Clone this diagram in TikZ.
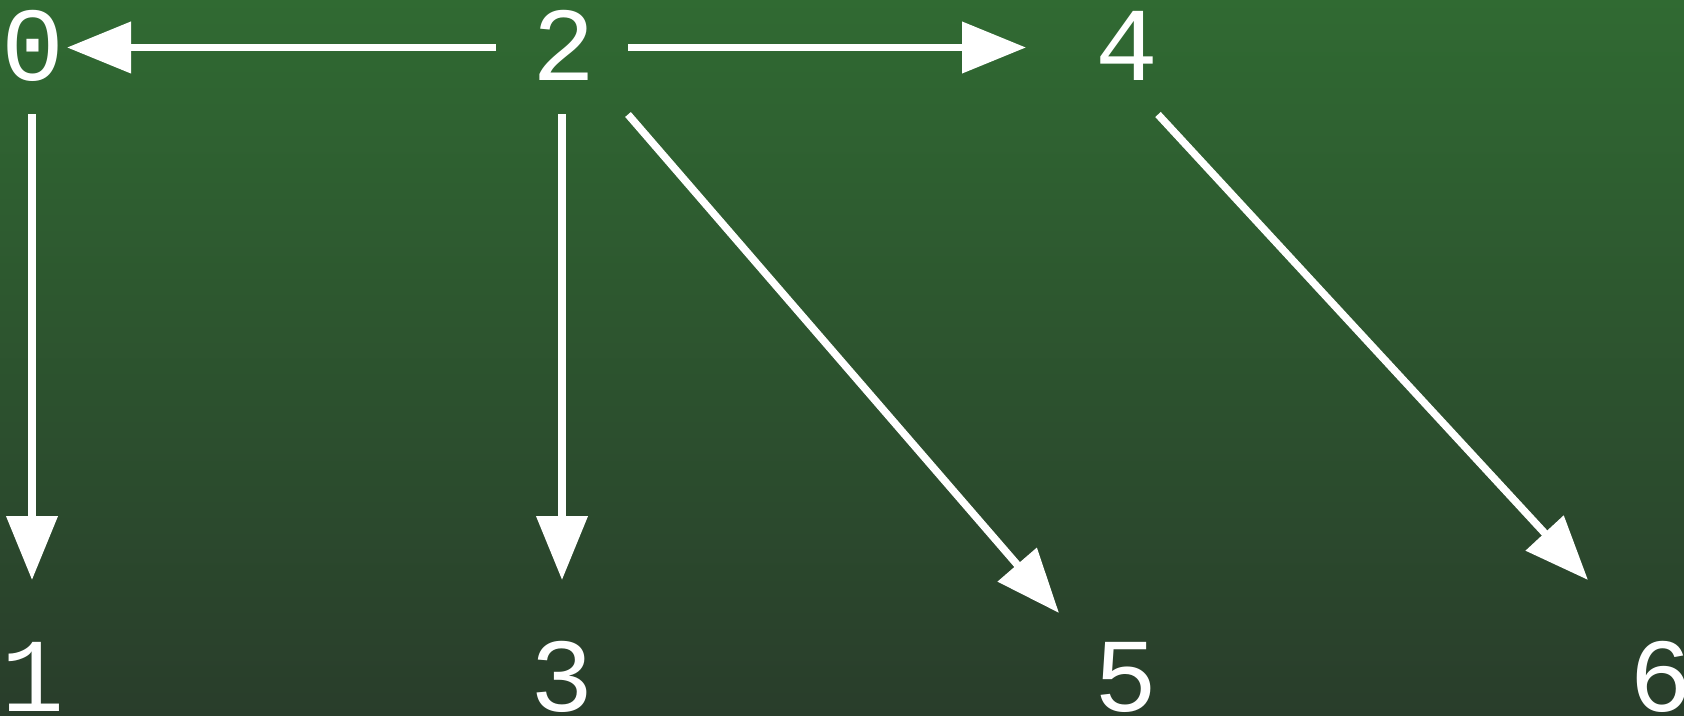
\documentclass[tikz,border=0pt]{standalone}
\usepackage{fontspec}
\setmonofont{Liberation Mono}
\usetikzlibrary{arrows.meta}
\definecolor{bgtop}{RGB}{48,106,50}
\definecolor{bgbot}{RGB}{41,61,43}
\begin{document}
\begin{tikzpicture}[x=0.5pt,y=-0.5pt,
  lbl/.style={text=white,font=\ttfamily\fontsize{52.5}{52.5}\selectfont,inner sep=0pt},
  arr/.style={draw=white,line width=3.75pt,-{Triangle[length=32pt,width=25pt]}}]
\shade[top color=bgtop,bottom color=bgbot] (0,0) rectangle (1684,716);
\useasboundingbox (0,0) rectangle (1684,716);
\node[lbl] (n0) at (33,45.5) {0};
\node[lbl] (n2) at (564,45.5) {2};
\node[lbl] (n4) at (1127,45.5) {4};
\node[lbl] (n1) at (33,677) {1};
\node[lbl] (n3) at (562,677) {3};
\node[lbl] (n5) at (1126,677) {5};
\node[lbl] (n6) at (1661,677) {6};
\draw[arr] ([shift={(-68,2)}]n2.center) -- ([shift={(34,2)}]n0.center);
\draw[arr] ([shift={(64,2)}]n2.center) -- ([shift={(-101,2)}]n4.center);
\draw[arr] ([shift={(-1,69)}]n0.center) -- ([shift={(-1,-97)}]n1.center);
\draw[arr] ([shift={(-2,69)}]n2.center) -- ([shift={(0,-97)}]n3.center);
\draw[arr] ([shift={(64,69)}]n2.center) -- ([shift={(-67,-64)}]n5.center);
\draw[arr] ([shift={(31,69)}]n4.center) -- ([shift={(-73,-97)}]n6.center);
\end{tikzpicture}
\end{document}
